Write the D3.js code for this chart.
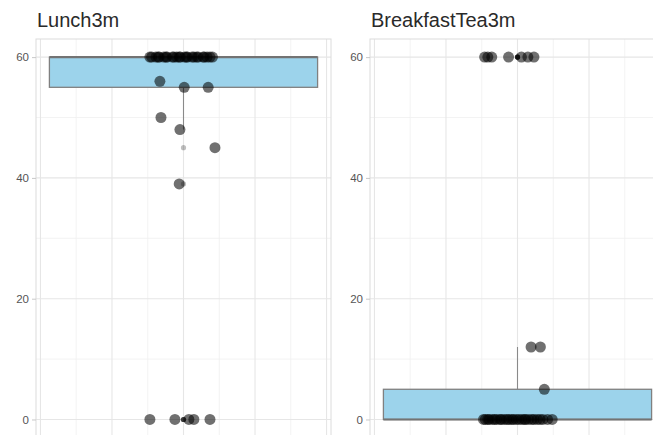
<!DOCTYPE html>
<html>
<head>
<meta charset="utf-8">
<script src="https://cdn.jsdelivr.net/npm/d3@7"></script>
<style>
  html, body { margin: 0; padding: 0; background: #fff; }
  svg { display: block; font-family: "Liberation Sans", Arial, Helvetica, sans-serif; }
</style>
</head>
<body>
<svg id="chart" width="653" height="435"></svg>
<script>
// Facet titles
const panelNames = ["Lunch3m", "BreakfastTea3m"];

// Minutes reported per respondent, with the horizontal jitter offset of each dot
const lunchValues = [
  60, 60, 60, 60, 60, 60, 60, 60, 60, 60, 60, 60, 60, 60, 60, 60, 60, 60, 60, 60, 60, 60, 60, 60, 60,
  56, 55, 55, 50, 48, 45, 39,
  0, 0, 0, 0, 0
];
const lunchJitter = [
  -0.094, -0.089, -0.077, -0.071, -0.068, -0.055, -0.049, -0.046, -0.031, -0.027, -0.019, -0.012, -0.009,
  0.003, 0.008, 0.011, 0.024, 0.029, 0.037, 0.041, 0.055, 0.058, 0.066, 0.074, 0.081,
  -0.066, 0.002, 0.069, -0.063, -0.010, 0.088, -0.012,
  -0.094, -0.024, 0.015, 0.029, 0.074
];

const teaValues = [
  60, 60, 60, 60, 60, 60, 60,
  12, 12, 5,
  0, 0, 0, 0, 0, 0, 0, 0, 0, 0, 0, 0, 0, 0, 0, 0, 0, 0, 0, 0, 0, 0, 0, 0, 0, 0, 0
];
const teaJitter = [
  -0.092, -0.083, -0.072, -0.025, 0.011, 0.029, 0.046,
  0.038, 0.064, 0.075,
  -0.095, -0.090, -0.083, -0.079, -0.070, -0.064, -0.058, -0.049, -0.045, -0.037, -0.030, -0.024, -0.016, -0.011,
  -0.003, 0.004, 0.012, 0.019, 0.023, 0.031, 0.040, 0.046, 0.055, 0.063, 0.071, 0.084, 0.097
];

// Axis breaks
const yMajorTicks = [0, 20, 40, 60];
const yMinorTicks = [10, 30, 50];
const xMajorTicks = [-0.4, -0.2, 0, 0.2, 0.4];
const xMinorTicks = [-0.3, -0.1, 0.1, 0.3];

const panels = [
  { name: panelNames[0], values: lunchValues, jitter: lunchJitter, left: 36 },
  { name: panelNames[1], values: teaValues, jitter: teaJitter, left: 370 }
];

const panelWidth = 295;
const panelTop = 39;
const panelBottom = 437.6;
const boxHalfWidth = 0.375;

const svg = d3.select("#chart");

// Tukey box statistics (R type-7 quantiles, 1.5 IQR whiskers)
function boxStats(values) {
  const s = values.slice().sort(d3.ascending);
  const q1 = d3.quantile(s, 0.25);
  const med = d3.quantile(s, 0.5);
  const q3 = d3.quantile(s, 0.75);
  const iqr = q3 - q1;
  const loFence = q1 - 1.5 * iqr;
  const hiFence = q3 + 1.5 * iqr;
  const inside = s.filter(v => v >= loFence && v <= hiFence);
  return {
    q1, med, q3,
    lo: d3.min(inside),
    hi: d3.max(inside),
    outliers: s.filter(v => v < loFence || v > hiFence)
  };
}

panels.forEach(p => {
  const x = d3.scaleLinear().domain([-0.4125, 0.4125]).range([p.left, p.left + panelWidth]);
  const y = d3.scaleLinear().domain([-3, 63]).range([panelBottom, panelTop]);

  const g = svg.append("g");

  // panel background grid
  g.append("g").selectAll("line").data(yMinorTicks).join("line")
    .attr("x1", x.range()[0]).attr("x2", x.range()[1])
    .attr("y1", d => y(d)).attr("y2", d => y(d))
    .attr("stroke", "#f0f0f0").attr("stroke-width", 0.8);
  g.append("g").selectAll("line").data(xMinorTicks).join("line")
    .attr("x1", d => x(d)).attr("x2", d => x(d))
    .attr("y1", panelTop).attr("y2", panelBottom)
    .attr("stroke", "#f0f0f0").attr("stroke-width", 0.8);
  g.append("g").selectAll("line").data(yMajorTicks).join("line")
    .attr("x1", x.range()[0]).attr("x2", x.range()[1])
    .attr("y1", d => y(d)).attr("y2", d => y(d))
    .attr("stroke", "#e6e6e6").attr("stroke-width", 1.1);
  g.append("g").selectAll("line").data(xMajorTicks).join("line")
    .attr("x1", d => x(d)).attr("x2", d => x(d))
    .attr("y1", panelTop).attr("y2", panelBottom)
    .attr("stroke", "#e6e6e6").attr("stroke-width", 1.1);

  // boxplot
  const st = boxStats(p.values);
  const cx = x(0);
  g.append("line")
    .attr("x1", cx).attr("x2", cx).attr("y1", y(st.q1)).attr("y2", y(st.lo))
    .attr("stroke", "#8a8a8a").attr("stroke-width", 1.1);
  g.append("line")
    .attr("x1", cx).attr("x2", cx).attr("y1", y(st.q3)).attr("y2", y(st.hi))
    .attr("stroke", "#8a8a8a").attr("stroke-width", 1.1);
  g.append("rect")
    .attr("x", x(-boxHalfWidth)).attr("width", x(boxHalfWidth) - x(-boxHalfWidth))
    .attr("y", y(st.q3)).attr("height", y(st.q1) - y(st.q3))
    .attr("fill", "#9cd3eb")
    .attr("stroke", "#808080").attr("stroke-width", 1.3);
  g.append("line")
    .attr("x1", x(-boxHalfWidth)).attr("x2", x(boxHalfWidth))
    .attr("y1", y(st.med)).attr("y2", y(st.med))
    .attr("stroke", "#737373").attr("stroke-width", 2.2);
  g.append("g").selectAll("circle").data(st.outliers).join("circle")
    .attr("cx", cx).attr("cy", d => y(d)).attr("r", 2.6)
    .attr("fill", "#000").attr("fill-opacity", 0.25);

  // jittered observations
  g.append("g").selectAll("circle").data(p.values.map((v, i) => ({ v, j: p.jitter[i] }))).join("circle")
    .attr("cx", d => x(d.j)).attr("cy", d => y(d.v)).attr("r", 5.5)
    .attr("fill", "#000").attr("fill-opacity", 0.56);

  // panel border
  g.append("rect")
    .attr("x", x.range()[0]).attr("y", panelTop)
    .attr("width", panelWidth).attr("height", panelBottom - panelTop)
    .attr("fill", "none").attr("stroke", "#dcdcdc").attr("stroke-width", 1);

  // y axis
  const axis = g.append("g")
    .attr("transform", `translate(${p.left},0)`)
    .call(d3.axisLeft(y).tickValues(yMajorTicks).tickSize(4).tickPadding(3).tickFormat(d3.format("d")));
  axis.select(".domain").remove();
  axis.selectAll(".tick line").attr("stroke", "#c8c8c8");
  axis.selectAll(".tick text")
    .attr("fill", "#555").attr("font-size", 11.5)
    .attr("font-family", "'Liberation Sans', Arial, sans-serif");

  // facet title
  g.append("text")
    .attr("x", p.left + 1).attr("y", 27)
    .attr("font-size", 20).attr("fill", "#2a2a2a")
    .text(p.name);
});
</script>
</body>
</html>
